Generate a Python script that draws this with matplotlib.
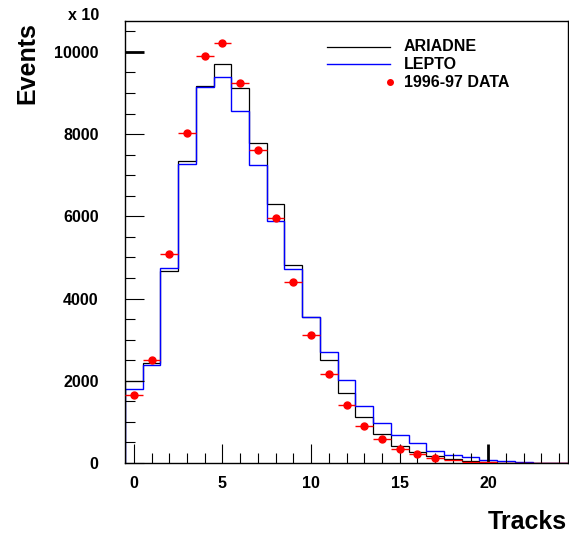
import numpy as np
import matplotlib
matplotlib.use("Agg")
import matplotlib.pyplot as plt

plt.rcParams['font.family'] = ['Liberation Sans', 'DejaVu Sans']
plt.rcParams['font.weight'] = 'bold'

# track multiplicity, one bin per integer
tracks = np.arange(25)
edges = np.arange(26) - 0.5

ariadne = [2005, 2426, 4672, 7348, 9180, 9700, 9117, 7778, 6294, 4810, 3545, 2499, 1703,
           1112, 706, 421, 268, 170, 89, 41, 17, 8, 4, 2, 1]
lepto = [1790, 2384, 4736, 7283, 9141, 9384, 8564, 7251, 5896, 4712, 3560, 2693, 2019,
         1394, 981, 681, 479, 292, 195, 138, 73, 49, 20, 8, 3]
data = [1655, 2499, 5085, 8021, 9910, 10211, 9246, 7608, 5961, 4412, 3118, 2174, 1419,
        908, 584, 349, 211, 130, 70, 30, 15, 8, 5, 3, 2]
n_marked = 18  # bins with a visible marker

fig = plt.figure(figsize=(5.69, 5.37), dpi=100)
ax = fig.add_axes([125/569, 74/537, 443/569, 442.3/537])

ax.stairs(ariadne, edges, color='black', linewidth=0.9, baseline=0)
ax.stairs(lepto, edges, color='#0000ff', linewidth=1.0, baseline=0)

data = np.array(data, dtype=float)
ax.errorbar(tracks[:n_marked], data[:n_marked], xerr=0.5, fmt='o', color='red',
            markersize=5, elinewidth=1.0, capsize=0, zorder=5)
ax.errorbar(tracks[n_marked:], data[n_marked:], xerr=0.5, fmt='none', ecolor='red',
            elinewidth=1.0, capsize=0, zorder=5)

ax.set_xlim(-0.5, 24.5)
ax.set_ylim(0, 10760)
ax.set_xticks([0, 5, 10, 15, 20])
ax.set_xticks(np.arange(0, 25), minor=True)
ax.set_yticks([0, 2000, 4000, 6000, 8000, 10000])
ax.set_yticks(np.arange(0, 10760, 500), minor=True)
ax.tick_params(which='both', direction='in', top=False, right=False, width=0.8)
ax.tick_params(which='major', length=13.5, labelsize=11.5)
ax.tick_params(which='minor', length=7)
ax.tick_params(axis='y', which='major', pad=19)
ax.tick_params(axis='x', which='major', pad=9)
for lab in ax.get_xticklabels() + ax.get_yticklabels():
    lab.set_fontweight('bold')

# heavier ticks at 20 tracks and 10000 events
ax.xaxis.get_major_ticks()[4].tick1line.set_markeredgewidth(2)
ax.yaxis.get_major_ticks()[5].tick1line.set_markeredgewidth(2)

for sp in ax.spines.values():
    sp.set_linewidth(1.0)

# legend drawn by hand
ax.plot([0.456, 0.598], [0.9412, 0.9412], color='black', linewidth=0.9, transform=ax.transAxes)
ax.plot([0.456, 0.598], [0.9014, 0.9014], color='#0000ff', linewidth=1.0, transform=ax.transAxes)
ax.plot([0.598], [0.8607], 'o', color='red', markersize=4, transform=ax.transAxes)
for yy, txt in zip([0.9412, 0.9014, 0.8607], ['ARIADNE', 'LEPTO', '1996-97 DATA']):
    ax.text(0.630, yy, txt, transform=ax.transAxes, fontsize=11.5, fontweight='bold',
            va='center', ha='left')

fig.text(99/569, 1 - 15/537, 'x 10', ha='right', va='center', fontsize=11.5, fontweight='bold')
fig.text(27/569, 1 - 63/537, 'Events', rotation=90, ha='center', va='center',
         fontsize=18, fontweight='bold')
fig.text(567/569, 1 - 522/537, 'Tracks', ha='right', va='center', fontsize=18,
         fontweight='bold')

fig.savefig('out.png', dpi=100)
